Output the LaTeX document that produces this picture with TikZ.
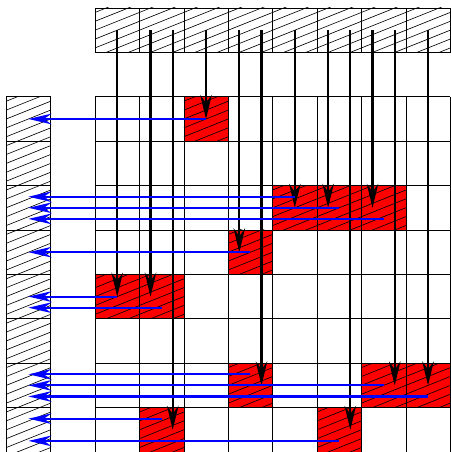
\documentclass[tikz,border=0pt]{standalone}
\usetikzlibrary{arrows.meta}

\begin{document}
\begin{tikzpicture}[
    cellH/.style={rectangle, draw=black, line width=0.4pt, minimum size=1cm, inner sep=0pt, outer sep=0pt,
        path picture={\foreach \h in {-0.3,-0.1,...,0.95}
            \draw[black, line width=0.4pt] ([yshift=\h cm]path picture bounding box.south west) -- ++(1,0.4);}},
    cellR/.style={cellH, fill=red},
    gridL/.style={black, line width=0.4pt},
    moveD/.style={-{Stealth[length=5.4mm, width=2.6mm, inset=1.8mm]}, line width=1.4pt, black},
    moveL/.style={-{Stealth[length=5.2mm, width=2.4mm, inset=1.7mm]}, line width=1.3pt, blue}]

    \useasboundingbox (-0.14,0) rectangle (10,10.18);

    % Top row (sources)
    \node[cellH] (T0) at (2.5,9.5) {}; \node[cellH] (T1) at (3.5,9.5) {};
    \node[cellH] (T2) at (4.5,9.5) {}; \node[cellH] (T3) at (5.5,9.5) {};
    \node[cellH] (T4) at (6.5,9.5) {}; \node[cellH] (T5) at (7.5,9.5) {};
    \node[cellH] (T6) at (8.5,9.5) {}; \node[cellH] (T7) at (9.5,9.5) {};

    % Left column (targets)
    \node[cellH] (L0) at (0.5,7.5) {}; \node[cellH] (L1) at (0.5,6.5) {};
    \node[cellH] (L2) at (0.5,5.5) {}; \node[cellH] (L3) at (0.5,4.5) {};
    \node[cellH] (L4) at (0.5,3.5) {}; \node[cellH] (L5) at (0.5,2.5) {};
    \node[cellH] (L6) at (0.5,1.5) {}; \node[cellH] (L7) at (0.5,0.5) {};

    % Red cells of the grid
    \node[cellR] (R02) at (4.5,7.5) {};
    \node[cellR] (R24) at (6.5,5.5) {}; \node[cellR] (R25) at (7.5,5.5) {}; \node[cellR] (R26) at (8.5,5.5) {};
    \node[cellR] (R33) at (5.5,4.5) {};
    \node[cellR] (R40) at (2.5,3.5) {}; \node[cellR] (R41) at (3.5,3.5) {};
    \node[cellR] (R63) at (5.5,1.5) {}; \node[cellR] (R66) at (8.5,1.5) {}; \node[cellR] (R67) at (9.5,1.5) {};
    \node[cellR] (R71) at (3.5,0.5) {}; \node[cellR] (R75) at (7.5,0.5) {};

    \draw[gridL] (2,0) grid (10,8);

    % Downward moves
    \coordinate (T1a) at ([xshift=-2.5mm]T1.center); \coordinate (T1b) at ([xshift=2.5mm]T1.center);
    \coordinate (T3a) at ([xshift=-2.5mm]T3.center); \coordinate (T3b) at ([xshift=2.5mm]T3.center);
    \coordinate (T5a) at ([xshift=-2.5mm]T5.center); \coordinate (T5b) at ([xshift=2.5mm]T5.center);
    \coordinate (T6a) at ([xshift=-2.5mm]T6.center); \coordinate (T6b) at ([xshift=2.5mm]T6.center);

    \draw[moveD] (T0.center) -- (R40.center);
    \draw[moveD] (T1a) -- (T1a |- R41.center);
    \draw[moveD] (T1b) -- (T1b |- R71.center);
    \draw[moveD] (T2.center) -- (R02.center);
    \draw[moveD] (T3a) -- (T3a |- R33.center);
    \draw[moveD] (T3b) -- (T3b |- R63.center);
    \draw[moveD] (T4.center) -- (R24.center);
    \draw[moveD] (T5a) -- (T5a |- R25.center);
    \draw[moveD] (T5b) -- (T5b |- R75.center);
    \draw[moveD] (T6a) -- (T6a |- R26.center);
    \draw[moveD] (T6b) -- (T6b |- R66.center);
    \draw[moveD] (T7.center) -- (R67.center);

    % Leftward moves
    \coordinate (B24) at ([yshift=2.5mm]R24.center);  \coordinate (B26) at ([yshift=-2.5mm]R26.center);
    \coordinate (B41) at ([yshift=-2.5mm]R41.center);
    \coordinate (B63) at ([yshift=2.5mm]R63.center);  \coordinate (B67) at ([yshift=-2.5mm]R67.center);
    \coordinate (B71) at ([yshift=2.5mm]R71.center);  \coordinate (B75) at ([yshift=-2.5mm]R75.center);

    \draw[moveL] (R02.center) -- (R02.center -| L0.center);
    \draw[moveL] (B24) -- (B24 -| L2.center);
    \draw[moveL] (R25.center) -- (R25.center -| L2.center);
    \draw[moveL] (B26) -- (B26 -| L2.center);
    \draw[moveL] (R33.center) -- (R33.center -| L3.center);
    \draw[moveL] (R40.center) -- (R40.center -| L4.center);
    \draw[moveL] (B41) -- (B41 -| L4.center);
    \draw[moveL] (B63) -- (B63 -| L6.center);
    \draw[moveL] (R66.center) -- (R66.center -| L6.center);
    \draw[moveL] (B67) -- (B67 -| L6.center);
    \draw[moveL] (B71) -- (B71 -| L7.center);
    \draw[moveL] (B75) -- (B75 -| L7.center);

\end{tikzpicture}
\end{document}
